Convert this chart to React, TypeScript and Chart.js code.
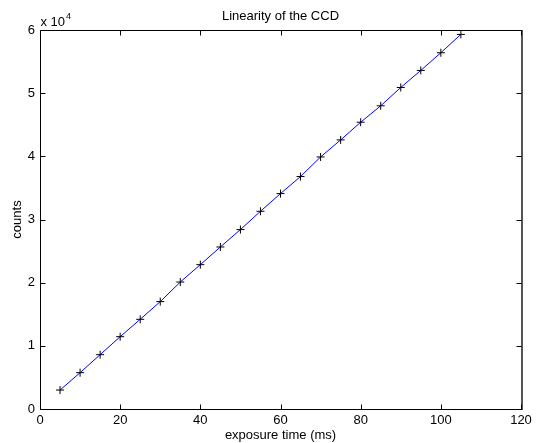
import React, { useEffect, useRef } from "react";
import { Chart, registerables } from "chart.js";

Chart.register(...registerables);

const exposureMs = [5, 10, 15, 20, 25, 30, 35, 40, 45, 50, 55, 60, 65, 70, 75, 80, 85, 90, 95, 100, 105];
const counts = [3000, 5750, 8600, 11450, 14200, 17000, 20100, 22850, 25650, 28400, 31300, 34100, 36800, 39900, 42600, 45400, 48000, 50900, 53600, 56400, 59300];
const xTicks = [0, 20, 40, 60, 80, 100, 120];
const yTicks = [0, 10000, 20000, 30000, 40000, 50000, 60000];
const titleText = "Linearity of the CCD";
const xLabel = "exposure time (ms)";
const yLabel = "counts";
const FONT = "Liberation Sans, Arial, Helvetica, sans-serif";

const boxPlugin = {
  id: "matlabBox",
  afterDraw(chart: any) {
    const { ctx, chartArea } = chart;
    const { left, right, top, bottom } = chartArea;
    const xs = chart.scales.x;
    const ys = chart.scales.y;
    ctx.save();
    ctx.strokeStyle = "#000";
    ctx.lineWidth = 1;
    const L = Math.round(left) + 0.5;
    const R = Math.round(right) + 0.5;
    const T = Math.round(top) + 0.5;
    const B = Math.round(bottom) + 0.5;
    ctx.beginPath();
    ctx.moveTo(R, B);
    ctx.lineTo(L, B);
    ctx.lineTo(L, T);
    ctx.lineTo(R, T);
    ctx.stroke();
    ctx.save();
    ctx.strokeStyle = "#555";
    ctx.lineWidth = 2;
    ctx.beginPath();
    ctx.moveTo(R + 0.5, T - 0.5);
    ctx.lineTo(R + 0.5, B + 0.5);
    ctx.stroke();
    ctx.restore();
    const tl = 5;
    ctx.beginPath();
    for (const v of xTicks) {
      const px = Math.round(xs.getPixelForValue(v)) + 0.5;
      ctx.moveTo(px, B);
      ctx.lineTo(px, B - tl);
      ctx.moveTo(px, T);
      ctx.lineTo(px, T + tl);
    }
    for (const v of yTicks) {
      const py = Math.round(ys.getPixelForValue(v)) + 0.5;
      ctx.moveTo(L, py);
      ctx.lineTo(L + tl, py);
      ctx.moveTo(R, py);
      ctx.lineTo(R - tl, py);
    }
    ctx.stroke();
    // title
    ctx.fillStyle = "#000";
    ctx.font = `13px ${FONT}`;
    ctx.textAlign = "center";
    ctx.textBaseline = "alphabetic";
    ctx.fillText(titleText, (left + right) / 2, 20);
    // exponent label
    ctx.textAlign = "left";
    ctx.fillText("x 10", L, 26);
    const w = ctx.measureText("x 10").width;
    ctx.font = `9px ${FONT}`;
    ctx.fillText("4", L + w + 1, 19);
    ctx.restore();
  },
};

export default function App() {
  const ref = useRef<HTMLCanvasElement>(null);
  useEffect(() => {
    if (!ref.current) return;
    const chart = new Chart(ref.current, {
      type: "line",
      data: {
        datasets: [
          {
            data: exposureMs.map((x, i) => ({ x, y: counts[i] })),
            borderColor: "#0000ff",
            borderWidth: 1,
            pointStyle: "cross",
            pointRadius: 4,
            pointBorderColor: "#000",
            pointBorderWidth: 1,
            pointBackgroundColor: "#000",
            tension: 0,
          },
        ],
      },
      options: {
        responsive: false,
        animation: false,
        devicePixelRatio: 1,
        layout: { padding: { left: 0, top: 30, right: 18, bottom: 0 } },
        plugins: {
          legend: { display: false },
          tooltip: { enabled: false },
          title: { display: false },
        },
        scales: {
          x: {
            type: "linear",
            min: 0,
            max: 120,
            afterBuildTicks: (s: any) => {
              s.ticks = xTicks.map((v) => ({ value: v }));
            },
            grid: { display: false, drawTicks: false, tickLength: 0 },
            border: { display: false },
            ticks: {
              color: "#000",
              font: { family: FONT, size: 13 },
              padding: 4,
              maxRotation: 0,
            },
            title: {
              display: true,
              text: xLabel,
              color: "#000",
              font: { family: FONT, size: 13 },
              padding: { top: 0, bottom: 0 },
            },
            afterFit: (s: any) => {
              s.height = 34;
            },
          },
          y: {
            type: "linear",
            min: 0,
            max: 60000,
            afterBuildTicks: (s: any) => {
              s.ticks = yTicks.map((v) => ({ value: v }));
            },
            grid: { display: false, drawTicks: false, tickLength: 0 },
            border: { display: false },
            ticks: {
              color: "#000",
              font: { family: FONT, size: 13 },
              padding: 5,
              callback: (v: any) => String(Number(v) / 10000),
            },
            title: {
              display: true,
              text: yLabel,
              color: "#000",
              font: { family: FONT, size: 13 },
              padding: { top: 10, bottom: 0 },
            },
            afterFit: (s: any) => {
              s.width = 40;
            },
          },
        },
      },
      plugins: [boxPlugin],
    });
    return () => chart.destroy();
  }, []);
  return (
    <div style={{ position: "fixed", left: 0, top: 0, width: 539, height: 443, background: "#fff" }}>
      <canvas ref={ref} width={539} height={443} style={{ width: 539, height: 443 }} />
    </div>
  );
}
